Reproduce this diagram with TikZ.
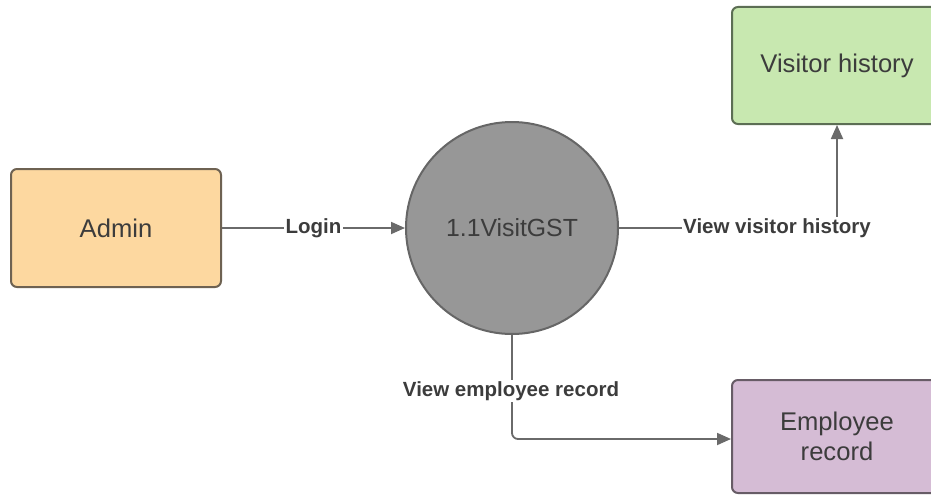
\documentclass[tikz,border=0pt]{standalone}
\usepackage{fontspec}
\setmainfont{Liberation Sans}
\usetikzlibrary{arrows.meta}
\definecolor{adminfill}{HTML}{FDD8A0}
\definecolor{adminline}{HTML}{6E6252}
\definecolor{visfill}{HTML}{C8E8B0}
\definecolor{visline}{HTML}{5C6E54}
\definecolor{empfill}{HTML}{D5BCD5}
\definecolor{empline}{HTML}{675C66}
\definecolor{procfill}{HTML}{979797}
\definecolor{procline}{HTML}{666666}
\definecolor{conn}{HTML}{6A6A6A}
\definecolor{txt}{HTML}{3C3C3C}
\begin{document}
\begin{tikzpicture}[x=1pt,y=-1pt,
  entity/.style={draw, line width=2pt, rounded corners=6pt, minimum width=210pt, align=center,
     text=txt, font=\fontsize{25.6}{30}\selectfont},
  proc/.style={circle, draw=procline, fill=procfill, line width=2pt, minimum size=212pt, inner sep=0pt,
     text=txt, font=\fontsize{24.8}{28}\selectfont},
  flow/.style={draw=conn, line width=1.8pt, -{Triangle[length=14pt,width=12pt]}},
  lbl/.style={fill=white, text=txt, inner sep=1.5pt, font=\bfseries\fontsize{20.5}{24}\selectfont}
]
\useasboundingbox[fill=white] (0,0) rectangle (931,495);
\node[entity, fill=adminfill, draw=adminline, minimum height=118pt] (admin) at (116,228) {Admin};
\node[proc] (p) at (512,228) {1.1VisitGST};
\node[entity, fill=visfill, draw=visline, minimum height=117pt] (vis) at (837,65.5) {Visitor history};
\node[entity, fill=empfill, draw=empline, minimum height=113pt] (emp) at (837,436.5) {Employee\\record};
\coordinate (c1) at (837,228);
\coordinate (c2) at (512,439);
\draw[flow] (admin.east) -- node[lbl]{Login} (p.west);
\draw[flow] (p.east) -- (c1) -- (vis.south);
\node[lbl] at (777,228) {View visitor history};
\draw[flow, rounded corners=6pt] (p.south) -- (c2) -- (emp.west |- c2);
\node[lbl] at (511,391) {View employee record};
\end{tikzpicture}
\end{document}
